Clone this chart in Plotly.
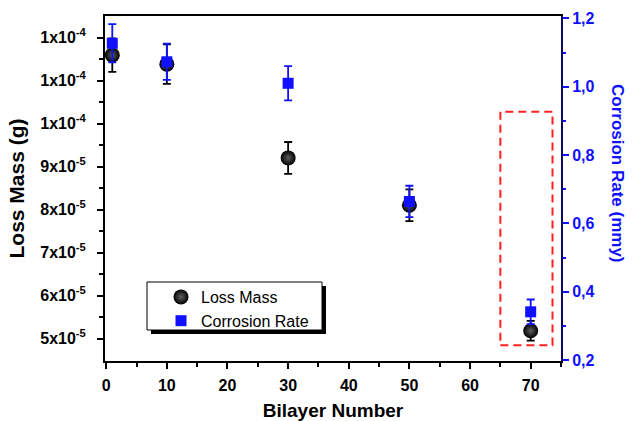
import plotly.graph_objects as go

# ---------------- data ----------------
bilayer = [1, 10, 30, 50, 70]
loss_mass = [1.159e-4, 1.138e-4, 9.20e-5, 8.10e-5, 5.18e-5]
loss_mass_err = [0.39e-5, 0.46e-5, 0.37e-5, 0.37e-5, 0.23e-5]
corrosion_rate = [1.127, 1.073, 1.010, 0.664, 0.341]
corrosion_err = [0.056, 0.053, 0.050, 0.046, 0.036]

left_tickvals = [5e-5, 6e-5, 7e-5, 8e-5, 9e-5, 1.0e-4, 1.1e-4, 1.2e-4]
left_ticktext = ["5x10<sup>-5</sup>", "6x10<sup>-5</sup>", "7x10<sup>-5</sup>",
                 "8x10<sup>-5</sup>", "9x10<sup>-5</sup>", "1x10<sup>-4</sup>",
                 "1x10<sup>-4</sup>", "1x10<sup>-4</sup>"]
left_minor = [5.5e-5, 6.5e-5, 7.5e-5, 8.5e-5, 9.5e-5, 1.05e-4, 1.15e-4]
x_tickvals = [0, 10, 20, 30, 40, 50, 60, 70]
x_minor = [5, 15, 25, 35, 45, 55, 65, 75]
right_tickvals = [0.2, 0.4, 0.6, 0.8, 1.0, 1.2]
right_minor = [0.3, 0.5, 0.7, 0.9, 1.1]

highlight_x = [65.0, 73.6]
highlight_y = [0.243, 0.927]

FONT = "Liberation Sans, Arial, sans-serif"
BLUE = "#1010ff"

fig = go.Figure()

fig.add_trace(go.Scatter(
    x=bilayer, y=loss_mass, mode="markers", name="Loss Mass",
    marker=dict(symbol="circle", size=15, color="#000000",
                gradient=dict(type="radial", color="#5e5e5e"),
                line=dict(width=0)),
    error_y=dict(type="data", array=loss_mass_err, visible=True,
                 color="black", thickness=1.8, width=4),
    yaxis="y"))

fig.add_trace(go.Scatter(
    x=bilayer, y=corrosion_rate, mode="markers", name="Corrosion Rate",
    marker=dict(symbol="square", size=11, color=BLUE, line=dict(width=0)),
    error_y=dict(type="data", array=corrosion_err, visible=True,
                 color=BLUE, thickness=1.8, width=4),
    yaxis="y2"))

# highlight dashed rectangle
fig.add_shape(type="rect", xref="x", yref="y2",
              x0=highlight_x[0], x1=highlight_x[1],
              y0=highlight_y[0], y1=highlight_y[1],
              line=dict(color="#ff2020", width=2, dash="8px,5px"),
              fillcolor="rgba(0,0,0,0)", layer="above")

# legend box with shadow (paper coords)
def px_x(p):
    return (p - 105) / 456.0

def px_y(p):
    return (361 - p) / 345.0

fig.add_shape(type="rect", xref="paper", yref="paper",
              x0=px_x(151), x1=px_x(326), y0=px_y(334), y1=px_y(286),
              line=dict(width=0), fillcolor="black", layer="above")
fig.add_shape(type="rect", xref="paper", yref="paper",
              x0=px_x(147), x1=px_x(322), y0=px_y(330), y1=px_y(282),
              line=dict(width=1, color="black"), fillcolor="white", layer="above")

fig.add_annotation(text="Corrosion Rate (mmy)", xref="paper", yref="paper",
                   x=px_x(618), y=px_y(173), textangle=90, showarrow=False,
                   xanchor="center", yanchor="middle",
                   font=dict(family=FONT, size=17, color=BLUE, weight="bold"))

fig.update_layout(
    width=632, height=421,
    margin=dict(l=105, r=71, t=16, b=60, autoexpand=False),
    paper_bgcolor="white", plot_bgcolor="white",
    separators=",.",
    showlegend=True,
    legend=dict(x=px_x(161), y=px_y(280), xanchor="left", yanchor="top",
                bgcolor="rgba(0,0,0,0)", borderwidth=0,
                font=dict(family=FONT, size=16, color="black")),
    xaxis=dict(range=[-0.2, 75], tickmode="array", tickvals=x_tickvals,
               automargin=False,
               showgrid=False, zeroline=False, showline=True, linecolor="black",
               linewidth=2, mirror=True, ticks="outside", ticklen=6, tickwidth=2,
               tickcolor="black", ticklabelstandoff=3,
               minor=dict(tickmode="array", tickvals=x_minor, ticks="outside",
                          ticklen=4, tickwidth=2, tickcolor="black"),
               tickfont=dict(family=FONT, size=16, color="black", weight="bold"),
               title=dict(text="Bilayer Number", standoff=15,
                          font=dict(family=FONT, size=19, color="black", weight="bold"))),
    yaxis=dict(range=[4.477e-5, 1.25e-4], tickmode="array", tickvals=left_tickvals,
               ticktext=left_ticktext, showgrid=False, zeroline=False,
               automargin=False,
               showline=True, linecolor="black", linewidth=2,
               ticks="outside", ticklen=6, tickwidth=2, tickcolor="black",
               ticklabelstandoff=8,
               minor=dict(tickmode="array", tickvals=left_minor, ticks="outside",
                          ticklen=4, tickwidth=2, tickcolor="black"),
               tickfont=dict(family=FONT, size=16, color="black", weight="bold"),
               title=dict(text="Loss Mass (g)", standoff=10,
                          font=dict(family=FONT, size=21, color="black", weight="bold"))),
    yaxis2=dict(range=[0.197, 1.207], overlaying="y", side="right",
                automargin=False,
                tickmode="array", tickvals=right_tickvals, tickformat=".1f",
                showgrid=False, zeroline=False, showline=True,
                linecolor="#0a0a60", linewidth=2,
                ticks="outside", ticklen=6, tickwidth=2, tickcolor=BLUE,
                minor=dict(tickmode="array", tickvals=right_minor, ticks="outside",
                           ticklen=3, tickwidth=2, tickcolor=BLUE),
                tickfont=dict(family=FONT, size=16, color=BLUE, weight="bold")),
)

fig.write_html("out.html")
